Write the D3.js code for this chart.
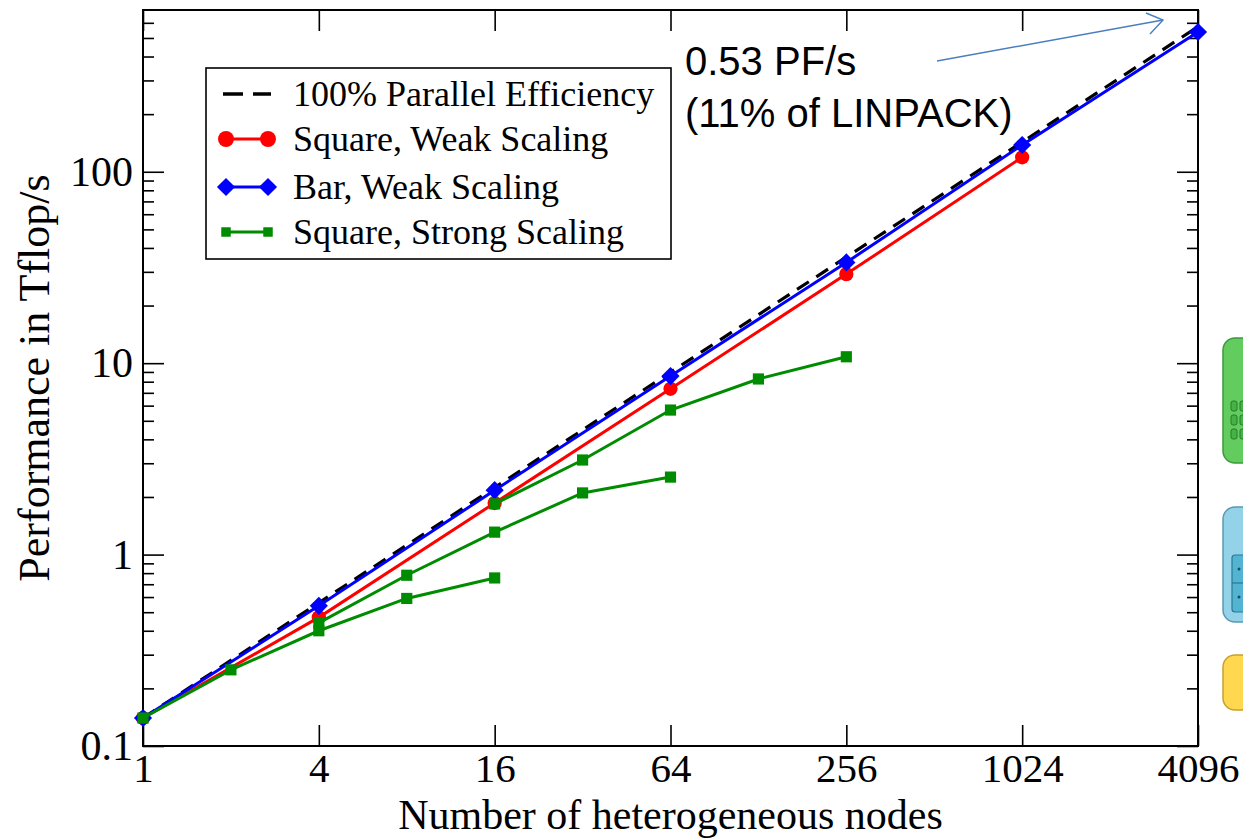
<!DOCTYPE html>
<html><head><meta charset="utf-8">
<script src="https://cdn.jsdelivr.net/npm/d3@7"></script>
<style>body{margin:0;background:#fff}svg{display:block}</style>
</head><body>
<svg id="c" width="1243" height="840"></svg>
<script>
// ---- data ----
const xNodes = [1, 4, 16, 64, 256, 1024, 4096];
const xTickLabels = ["1", "4", "16", "64", "256", "1024", "4096"];
const yTickValues = [0.1, 1, 10, 100];
const yTickLabels = ["0.1", "1", "10", "100"];
const idealPerf = [0.14, 0.56, 2.24, 8.96, 35.8, 143, 573];
const squareWeakX = [1, 4, 16, 64, 256, 1024];
const squareWeak = [0.14, 0.47, 1.86, 7.35, 29.2, 119];
const barWeakX = [1, 4, 16, 64, 256, 1024, 4096];
const barWeak = [0.14, 0.54, 2.17, 8.56, 33.6, 138, 537];
const strongAX = [1, 2, 4, 8, 16];
const strongA = [0.14, 0.25, 0.40, 0.59, 0.755];
const strongBX = [4, 8, 16, 32, 64];
const strongB = [0.44, 0.78, 1.31, 2.10, 2.54];
const strongCX = [16, 32, 64, 128, 256];
const strongC = [1.84, 3.12, 5.69, 8.27, 10.8];
const legendLabels = ["100% Parallel Efficiency", "Square, Weak Scaling", "Bar, Weak Scaling", "Square, Strong Scaling"];
const annotationLines = ["0.53 PF/s", "(11% of LINPACK)"];

// ---- layout ----
const L = 143, R = 1198, T = 10, B = 746;
const svg = d3.select("#c");
const x = d3.scaleLog().base(4).domain([1, 4096]).range([L, R]);
const y = d3.scaleLog().domain([0.1, 700]).range([B, T]);
const serif = "'Liberation Serif','Times New Roman',serif";

// minor y ticks
const minorY = [];
[0.1, 1, 10, 100].forEach(d => { for (let k = 2; k <= 9; k++) { const v = d * k; if (v < 700) minorY.push(v); } });

function styleAxis(g, fs) {
  g.select(".domain").remove();
  g.selectAll(".tick line").attr("stroke", "#000").attr("stroke-width", 1.6);
  g.selectAll("text").attr("font-family", serif).attr("font-size", fs || 42).attr("fill", "#000");
}

svg.append("g").attr("transform", `translate(0,${B})`)
  .call(d3.axisBottom(x).tickValues(xNodes).tickSize(-21).tickPadding(7).tickFormat((d, i) => xTickLabels[i]))
  .call(g => styleAxis(g, 41));
svg.append("g").attr("transform", `translate(0,${T})`)
  .call(d3.axisTop(x).tickValues(xNodes).tickSize(-21).tickFormat(""))
  .call(g => styleAxis(g));
svg.append("g").attr("transform", `translate(${L},0)`)
  .call(d3.axisLeft(y).tickValues(yTickValues).tickSize(-21).tickPadding(10).tickFormat((d, i) => yTickLabels[i]))
  .call(g => styleAxis(g));
svg.append("g").attr("transform", `translate(${L},0)`)
  .call(d3.axisLeft(y).tickValues(minorY).tickSize(-11).tickFormat(""))
  .call(g => styleAxis(g));
svg.append("g").attr("transform", `translate(${R},0)`)
  .call(d3.axisRight(y).tickValues(yTickValues).tickSize(-21).tickFormat(""))
  .call(g => styleAxis(g));
svg.append("g").attr("transform", `translate(${R},0)`)
  .call(d3.axisRight(y).tickValues(minorY).tickSize(-11).tickFormat(""))
  .call(g => styleAxis(g));

svg.append("rect").attr("x", L).attr("y", T).attr("width", R - L).attr("height", B - T)
  .attr("fill", "none").attr("stroke", "#000").attr("stroke-width", 2);

// axis labels
svg.append("text").attr("x", (L + R) / 2).attr("y", 829).attr("text-anchor", "middle")
  .attr("font-family", serif).attr("font-size", 42).text("Number of heterogeneous nodes");
svg.append("text").attr("transform", `translate(49,${(T + B) / 2}) rotate(-90)`).attr("text-anchor", "middle")
  .attr("font-family", serif).attr("font-size", 44).text("Performance in Tflop/s");

// ---- series ----
const line = d3.line().x(d => x(d[0])).y(d => y(d[1]));
const zip = (xs, ys) => xs.map((v, i) => [v, ys[i]]);
const RED = "#ff0000", BLUE = "#0000ff", GREEN = "#008c00";

svg.append("path").datum(zip(xNodes, idealPerf)).attr("d", line)
  .attr("fill", "none").attr("stroke", "#000").attr("stroke-width", 3.2).attr("stroke-dasharray", "14,9");

function series(xs, ys, color, marker) {
  const pts = zip(xs, ys);
  svg.append("path").datum(pts).attr("d", line).attr("fill", "none").attr("stroke", color).attr("stroke-width", 3);
  svg.append("g").selectAll("path").data(pts).join("path")
    .attr("transform", d => `translate(${x(d[0])},${y(d[1])})` + (marker.rot ? " rotate(45)" : ""))
    .attr("d", d3.symbol(marker.type, marker.size)()).attr("fill", color);
}
const circleM = { type: d3.symbolCircle, size: 160 };
const diamondM = { type: d3.symbolSquare, size: 165, rot: true };
const squareM = { type: d3.symbolSquare, size: 125 };
series(squareWeakX, squareWeak, RED, circleM);
series(barWeakX, barWeak, BLUE, diamondM);
series(strongAX, strongA, GREEN, squareM);
series(strongBX, strongB, GREEN, squareM);
series(strongCX, strongC, GREEN, squareM);

// ---- legend ----
const lg = svg.append("g");
lg.append("rect").attr("x", 206).attr("y", 68).attr("width", 465).attr("height", 191)
  .attr("fill", "#fff").attr("stroke", "#000").attr("stroke-width", 1.6);
const rowsY = [94, 139, 187, 232];
lg.append("line").attr("x1", 223).attr("x2", 271).attr("y1", rowsY[0]).attr("y2", rowsY[0])
  .attr("stroke", "#000").attr("stroke-width", 3.5).attr("stroke-dasharray", "20,10");
const legMarks = [[RED, { type: d3.symbolCircle, size: 200 }], [BLUE, diamondM], [GREEN, { type: d3.symbolSquare, size: 90 }]];
legMarks.forEach((m, i) => {
  const yy = rowsY[i + 1];
  lg.append("line").attr("x1", 226).attr("x2", 268).attr("y1", yy).attr("y2", yy).attr("stroke", m[0]).attr("stroke-width", 3);
  [226, 268].forEach(xx => lg.append("path")
    .attr("transform", `translate(${xx},${yy})` + (m[1].rot ? " rotate(45)" : ""))
    .attr("d", d3.symbol(m[1].type, m[1].size)()).attr("fill", m[0]));
});
legendLabels.forEach((t, i) => lg.append("text").attr("x", 293).attr("y", rowsY[i] + 12)
  .attr("font-family", serif).attr("font-size", 36).text(t));

// ---- annotation ----
const sans = "'Liberation Sans',Arial,sans-serif";
annotationLines.forEach((t, i) => svg.append("text").attr("x", 685).attr("y", 75 + i * 52)
  .attr("font-family", sans).attr("font-size", 40).attr("fill", "#000").text(t));
svg.append("line").attr("x1", 937).attr("y1", 61).attr("x2", 1163).attr("y2", 20)
  .attr("stroke", "#4a7ebf").attr("stroke-width", 1.4);
svg.append("polyline").attr("points", "1146,13 1163,20 1150,34")
  .attr("fill", "none").attr("stroke", "#4a7ebf").attr("stroke-width", 1.4);

// ---- slide decorations at right edge (partially cut off) ----
const dec = svg.append("g");
dec.append("rect").attr("x", 1223).attr("y", 338).attr("width", 40).attr("height", 125).attr("rx", 12)
  .attr("fill", "#63cc5f").attr("stroke", "#3d9a3d").attr("stroke-width", 1.5);
[401, 415, 429].forEach(yy => {
  dec.append("rect").attr("x", 1231).attr("y", yy).attr("width", 6).attr("height", 10).attr("rx", 2)
    .attr("fill", "#44b244").attr("stroke", "#2a7a2a").attr("stroke-width", 1);
  dec.append("rect").attr("x", 1240).attr("y", yy).attr("width", 6).attr("height", 10).attr("rx", 2)
    .attr("fill", "#44b244").attr("stroke", "#2a7a2a").attr("stroke-width", 1);
});
dec.append("rect").attr("x", 1223).attr("y", 507).attr("width", 40).attr("height", 115).attr("rx", 12)
  .attr("fill", "#93d2e8").attr("stroke", "#5a9ab0").attr("stroke-width", 1.5);
dec.append("rect").attr("x", 1232).attr("y", 555).attr("width", 20).attr("height", 57).attr("rx", 3)
  .attr("fill", "#52b3d3").attr("stroke", "#2a7a90").attr("stroke-width", 1.2);
dec.append("line").attr("x1", 1232).attr("x2", 1252).attr("y1", 583).attr("y2", 583).attr("stroke", "#2a7a90").attr("stroke-width", 1.2);
[569, 597].forEach(yy => dec.append("circle").attr("cx", 1239).attr("cy", yy).attr("r", 1.5).attr("fill", "#1d4e5e"));
dec.append("rect").attr("x", 1223).attr("y", 655).attr("width", 40).attr("height", 55).attr("rx", 12)
  .attr("fill", "#ffd84f").attr("stroke", "#c8a030").attr("stroke-width", 1.5);
</script>
</body></html>
